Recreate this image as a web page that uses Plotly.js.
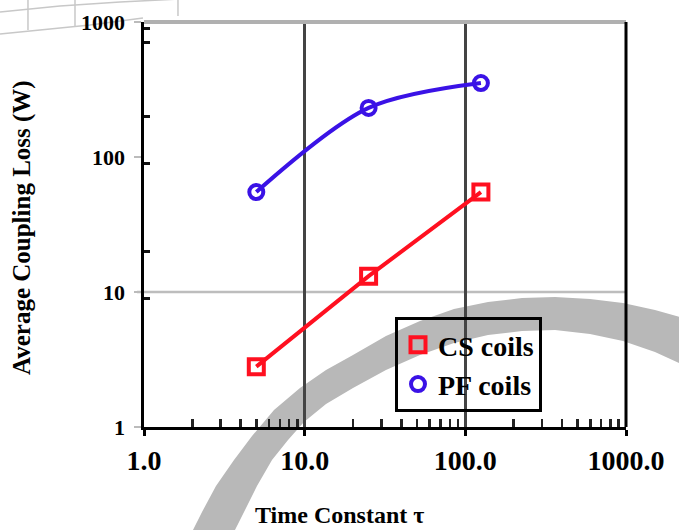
<!DOCTYPE html>
<html>
<head>
<meta charset="utf-8">
<script src="https://cdn.plot.ly/plotly-3.0.1.min.js"></script>
<style>
  html, body { margin: 0; padding: 0; background: #ffffff; }
  #chart { width: 679px; height: 530px; }
</style>
</head>
<body>
<div id="chart"></div>
<script>
// Time constants (s) and average coupling losses (W)
const timeConstant = [5, 25, 125];
const csLoss = [2.8, 13.1, 55];
const pfLoss = [55, 231, 353];

const seriesNames = ['CS coils', 'PF coils'];
const xTitle = 'Time Constant τ';
const yTitle = 'Average Coupling Loss (W)';
const xTickVals = [1, 10, 100, 1000];
const xTickText = ['1.0', '10.0', '100.0', '1000.0'];
const yTickVals = [1, 10, 100, 1000];
const yTickText = ['1', '10', '100', '1000'];
const xMinorVals = [2, 3, 4, 5, 6, 7, 8, 9, 20, 30, 40, 50, 60, 70, 80, 90, 200, 300, 400, 500, 600, 700, 800, 900];
const yMinorVals = [9, 20, 90, 200, 700, 900];

const red = '#ff1020';
const blue = '#3a12e6';
const serif = 'Liberation Serif, Times New Roman, serif';

// figure geometry: the paper box runs from the left edge to the right frame,
// the axes occupy its right part so the value labels can sit on their own axis
const W = 679, H = 530;
const L = 144, R = 626, T = 22, B = 427;
const fx = px => px / R;
const fy = py => (B - py) / (B - T);
function pathFrom(points, close) {
  return points.map((p, i) => (i ? 'L' : 'M') + fx(p[0]).toFixed(4) + ',' + fy(p[1]).toFixed(4)).join(' ') + (close ? ' Z' : '');
}

// broad grey sweep across the lower half of the figure
const sweepUpper = [[188,540],[202,512],[216,486],[234,460],[252,436],[274,410],[300,388],[326,370],[353,355],[386,336],[420,321],[454,309],[488,302],[522,298],[555,297],[590,299],[623,303],[655,310],[690,320]];
const sweepLower = [[690,368],[655,352],[623,341],[590,334],[555,330],[522,331],[488,335],[454,343],[420,355],[386,370],[353,388],[326,404],[304,422],[288,440],[272,460],[257,486],[244,512],[230,540]];
const sweepPath = pathFrom(sweepUpper.concat(sweepLower), true);

// thin outline near the upper left corner
const outlineA = pathFrom([[0,34],[40,30],[90,25],[143,18]], false);
const outlineB = pathFrom([[0,12],[60,6],[120,2],[200,-2],[260,-4]], false);
const outlineC = pathFrom([[178,0],[178,16]], false);
const outlineD = pathFrom([[28,0],[28,30]], false);
const outlineE = pathFrom([[75,0],[75,26]], false);

const traces = [
  // fitted curves
  {
    x: timeConstant, y: csLoss, type: 'scatter', mode: 'lines',
    line: { color: red, width: 4, shape: 'linear' },
    showlegend: false, hoverinfo: 'skip'
  },
  {
    x: timeConstant, y: pfLoss, type: 'scatter', mode: 'lines',
    line: { color: blue, width: 4, shape: 'spline', smoothing: 0.9 },
    showlegend: false, hoverinfo: 'skip'
  },
  // measured points
  {
    x: timeConstant, y: csLoss, type: 'scatter', mode: 'markers', name: seriesNames[0],
    legendgroup: 'cs',
    marker: { symbol: 'square-open', size: 15, color: red, line: { color: red, width: 4 } }
  },
  {
    x: timeConstant, y: pfLoss, type: 'scatter', mode: 'markers', name: seriesNames[1],
    legendgroup: 'pf',
    marker: { symbol: 'circle-open', size: 14, color: blue, line: { color: blue, width: 4 } }
  },
  // empty trace that carries the value-axis labels
  { x: [], y: [], type: 'scatter', mode: 'markers', yaxis: 'y2', showlegend: false, hoverinfo: 'skip' }
];

const layout = {
  width: W, height: H,
  margin: { l: 0, r: W - R, t: T, b: H - B, pad: 0 },
  paper_bgcolor: '#ffffff',
  plot_bgcolor: 'rgba(0,0,0,0)',
  font: { family: serif, color: '#000000', size: 22, weight: 700 },
  showlegend: true,
  legend: {
    x: fx(395), y: fy(317), xanchor: 'left', yanchor: 'top',
    bgcolor: 'rgba(0,0,0,0)', bordercolor: '#000000', borderwidth: 3,
    font: { family: serif, size: 28, color: '#000000', weight: 700 },
    traceorder: 'grouped', tracegroupgap: 0,
    itemwidth: 30
  },
  xaxis: {
    domain: [fx(L), 1],
    type: 'log', range: [0, 3],
    tickmode: 'array', tickvals: xTickVals, ticktext: xTickText,
    ticks: 'outside', ticklen: 6, tickwidth: 3, tickcolor: '#000000',
    tickfont: { family: serif, size: 28, color: '#000000', weight: 700 },
    showline: true, linecolor: '#000000', linewidth: 3,
    showgrid: true, gridcolor: '#444444', gridwidth: 2.5,
    zeroline: false,
    minor: { tickmode: 'array', tickvals: xMinorVals, ticks: 'inside', ticklen: 8, tickwidth: 2.5, tickcolor: '#222222', showgrid: false },
    automargin: false
  },
  yaxis: {
    type: 'log', range: [0, 3], anchor: 'x',
    tickmode: 'array', tickvals: yTickVals,
    ticks: 'outside', ticklen: 7, tickwidth: 2, tickcolor: '#bbbbbb',
    showticklabels: false,
    showline: true, linecolor: '#000000', linewidth: 3,
    showgrid: false, zeroline: false,
    minor: { tickmode: 'array', tickvals: yMinorVals, ticks: 'inside', ticklen: 6, tickwidth: 3, tickcolor: '#111111', showgrid: false },
    automargin: false
  },
  yaxis2: {
    type: 'log', range: [0, 3], overlaying: 'y', side: 'left',
    anchor: 'free', position: fx(125),
    tickmode: 'array', tickvals: yTickVals, ticktext: yTickText,
    ticks: '', showline: false, showgrid: false, zeroline: false,
    tickfont: { family: serif, size: 22, color: '#000000', weight: 700 },
    automargin: false
  },
  annotations: [
    {
      text: xTitle, xref: 'paper', yref: 'paper', x: fx(340), y: fy(515),
      xanchor: 'center', yanchor: 'middle', showarrow: false,
      font: { family: serif, size: 24, color: '#000000', weight: 700 }
    },
    {
      text: yTitle, xref: 'paper', yref: 'paper', x: fx(22), y: fy(228),
      xanchor: 'center', yanchor: 'middle', showarrow: false, textangle: -90,
      font: { family: serif, size: 25, color: '#000000', weight: 700 }
    }
  ],
  shapes: [
    { type: 'path', xref: 'paper', yref: 'paper', path: sweepPath, fillcolor: '#b8b8b8', line: { width: 0 }, layer: 'below' },
    { type: 'path', xref: 'paper', yref: 'paper', path: outlineA, line: { color: '#c8c8c8', width: 1.5 }, layer: 'below' },
    { type: 'path', xref: 'paper', yref: 'paper', path: outlineB, line: { color: '#c8c8c8', width: 1.5 }, layer: 'below' },
    { type: 'path', xref: 'paper', yref: 'paper', path: outlineC, line: { color: '#c8c8c8', width: 1.5 }, layer: 'below' },
    { type: 'path', xref: 'paper', yref: 'paper', path: outlineD, line: { color: '#c8c8c8', width: 1.5 }, layer: 'below' },
    { type: 'path', xref: 'paper', yref: 'paper', path: outlineE, line: { color: '#c8c8c8', width: 1.5 }, layer: 'below' },
    // light horizontal rule at 10 W
    { type: 'line', xref: 'paper', yref: 'y', x0: fx(137), x1: 1, y0: 10, y1: 10, line: { color: '#bdbdbd', width: 2.5 }, layer: 'below' },
    // frame: grey top edge, black right edge
    { type: 'line', xref: 'paper', yref: 'paper', x0: fx(L), x1: 1, y0: 1, y1: 1, line: { color: '#b0b0b0', width: 4 } },
    { type: 'line', xref: 'paper', yref: 'paper', x0: 1, x1: 1, y0: 0, y1: 1, line: { color: '#000000', width: 3 } }
  ]
};

Plotly.newPlot('chart', traces, layout, { displayModeBar: false, staticPlot: true });
</script>
</body>
</html>
